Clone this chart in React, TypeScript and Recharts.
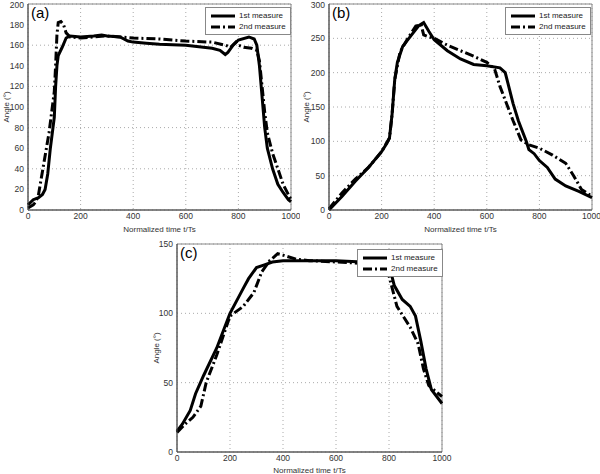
import {
  CartesianGrid,
  Label,
  Legend,
  Line,
  LineChart,
  ReferenceArea,
  XAxis,
  YAxis,
} from "recharts";

// panel (a)
const aTime1 = [0, 20, 40, 55, 65, 75, 85, 95, 100, 105, 110, 115, 130, 145, 160, 200, 250, 280, 300, 350, 380, 400, 450, 500, 600, 700, 730, 750, 760, 780, 800, 840, 860, 870, 880, 890, 900, 910, 930, 950, 970, 990, 1000];
const aFirst = [5, 10, 12, 15, 20, 35, 60, 80, 90, 120, 140, 150, 158, 167, 169, 168, 169, 170, 169, 168, 164, 163, 162, 161, 160, 157, 155, 151, 153, 160, 165, 168, 166, 160, 140, 110, 80, 60, 40, 25, 17, 10, 8];
const aTime2 = [0, 20, 30, 40, 50, 60, 70, 80, 90, 100, 105, 110, 115, 125, 135, 145, 160, 200, 300, 350, 400, 500, 600, 700, 750, 770, 790, 800, 820, 850, 870, 880, 890, 900, 910, 930, 950, 970, 990, 1000];
const aSecond = [2, 5, 8, 15, 30, 45, 60, 75, 95, 115, 140, 170, 182, 183, 180, 172, 168, 167, 169, 168, 167, 166, 164, 163, 160, 158, 163, 160, 158, 157, 155, 145, 120, 95, 75, 55, 40, 25, 15, 10];

// panel (b)
const bTime1 = [0, 50, 100, 150, 200, 220, 230, 240, 250, 260, 280, 300, 320, 340, 360, 380, 400, 450, 500, 550, 600, 650, 670, 680, 700, 720, 750, 760, 780, 800, 830, 860, 900, 950, 1000];
const bFirst = [0, 20, 42, 62, 85, 97, 105, 140, 190, 215, 238, 248, 258, 268, 273, 260, 248, 232, 220, 212, 210, 207, 200, 185, 155, 130, 100, 88, 82, 72, 62, 45, 35, 27, 18];
const bTime2 = [0, 50, 100, 150, 200, 230, 240, 250, 270, 300, 330, 350, 360, 380, 400, 450, 500, 550, 600, 630, 650, 680, 700, 730, 760, 800, 850, 900, 930, 960, 1000];
const bSecond = [2, 25, 45, 62, 85, 105, 140, 190, 230, 250, 268, 270, 255, 252, 250, 240, 232, 224, 215, 205, 180, 150, 130, 102, 95, 90, 80, 68, 50, 30, 20];

// panel (c)
const cTime1 = [0, 20, 50, 70, 100, 150, 200, 250, 270, 300, 330, 360, 400, 500, 600, 700, 780, 800, 820, 850, 880, 900, 920, 940, 960, 980, 1000];
const cFirst = [15, 20, 30, 42, 55, 75, 100, 118, 125, 133, 135, 137, 138, 138, 138, 137, 138, 135, 120, 110, 105, 98, 80, 60, 45, 40, 35];
const cTime2 = [0, 30, 60, 90, 110, 150, 200, 250, 290, 320, 350, 380, 400, 450, 500, 600, 700, 780, 800, 830, 880, 910, 930, 950, 980, 1000];
const cSecond = [14, 20, 25, 33, 50, 70, 98, 105, 115, 130, 138, 143, 142, 139, 138, 137, 136, 135, 127, 105, 90, 78, 60, 48, 43, 40];

const xTicks = [0, 200, 400, 600, 800, 1000];
const aYTicks = [0, 20, 40, 60, 80, 100, 120, 140, 160, 180, 200];
const bYTicks = [0, 50, 100, 150, 200, 250, 300];
const cYTicks = [0, 50, 100, 150];

const FONT = "'Liberation Sans', Arial, sans-serif";
const DASH_DOT = "9 3 2 3";

const toPoints = (t: number[], v: number[]) => t.map((x, i) => ({ x, y: v[i] }));

const LegendBox = () => (
  <div
    style={{
      background: "#fff",
      border: "1px solid #888",
      padding: "2px 4px",
      fontFamily: FONT,
      fontSize: 8,
      color: "#222",
      lineHeight: "11px",
    }}
  >
    {[
      { name: "1st measure", dash: undefined },
      { name: "2nd measure", dash: DASH_DOT },
    ].map((it) => (
      <div key={it.name} style={{ display: "flex", alignItems: "center" }}>
        <svg width={26} height={8} style={{ marginRight: 3 }}>
          <line x1={1} y1={4} x2={25} y2={4} stroke="#000" strokeWidth={3} strokeDasharray={it.dash} />
        </svg>
        {it.name}
      </div>
    ))}
  </div>
);

interface PanelProps {
  left: number;
  top: number;
  width: number;
  height: number;
  margin: { top: number; right: number; bottom: number; left: number };
  yWidth: number;
  xHeight: number;
  yMax: number;
  yTicks: number[];
  tag: string;
  first: { x: number; y: number }[];
  second: { x: number; y: number }[];
  legendLeft: number;
  legendTop: number;
}

const Panel = (p: PanelProps) => (
  <div style={{ position: "absolute", left: p.left, top: p.top }}>
    <LineChart width={p.width} height={p.height} margin={p.margin}>
      <CartesianGrid stroke="#aaa" strokeDasharray="1 3" />
      <XAxis
        type="number"
        dataKey="x"
        domain={[0, 1000]}
        ticks={xTicks}
        height={p.xHeight}
        tickLine={false}
        tickSize={2}
        tickMargin={1}
        axisLine={{ stroke: "#444" }}
        tick={{ fontSize: 8.5, fill: "#333", fontFamily: FONT }}
        allowDuplicatedCategory={false}
      >
        <Label
          value="Normalized time t/Ts"
          position="insideBottom"
          offset={p.xHeight > 25 ? 6 : 1}
          style={{ fontSize: 8, fill: "#333", fontFamily: FONT }}
        />
      </XAxis>
      <YAxis
        type="number"
        dataKey="y"
        domain={[0, p.yMax]}
        ticks={p.yTicks}
        width={p.yWidth}
        tickLine={false}
        tickSize={2}
        tickMargin={2}
        axisLine={{ stroke: "#444" }}
        tick={{ fontSize: 8.5, fill: "#333", fontFamily: FONT }}
      >
        <Label
          value="Angle (°)"
          angle={-90}
          position="insideLeft"
          offset={6}
          style={{ fontSize: 8, fill: "#333", fontFamily: FONT, textAnchor: "middle" }}
        />
      </YAxis>
      <ReferenceArea
        x1={0}
        x2={1000}
        y1={0}
        y2={p.yMax}
        fill="none"
        stroke="#888"
        strokeWidth={1}
        ifOverflow="extendDomain"
      >
        <Label
          value={p.tag}
          position="insideTopLeft"
          offset={3}
          style={{ fontSize: 15, fill: "#000", fontFamily: FONT }}
        />
      </ReferenceArea>
      <Line
        data={p.first}
        dataKey="y"
        name="1st measure"
        type="linear"
        stroke="#000"
        strokeWidth={3}
        dot={false}
        isAnimationActive={false}
      />
      <Line
        data={p.second}
        dataKey="y"
        name="2nd measure"
        type="linear"
        stroke="#000"
        strokeWidth={3}
        strokeDasharray={DASH_DOT}
        dot={false}
        isAnimationActive={false}
      />
      <Legend
        layout="vertical"
        align="center"
        verticalAlign="middle"
        content={() => <LegendBox />}
        wrapperStyle={{ top: p.legendTop, left: p.legendLeft, width: "auto", height: "auto" }}
      />
    </LineChart>
  </div>
);

export default function App() {
  return (
    <div
      style={{
        position: "absolute",
        left: 0,
        top: 0,
        width: 600,
        height: 474,
        background: "#fff",
        overflow: "hidden",
      }}
    >
      <Panel
        left={0}
        top={0}
        width={300}
        height={240}
        margin={{ top: 4, right: 9, bottom: 2, left: 0 }}
        yWidth={28}
        xHeight={28}
        yMax={200}
        yTicks={aYTicks}
        tag="(a)"
        first={toPoints(aTime1, aFirst)}
        second={toPoints(aTime2, aSecond)}
        legendLeft={205}
        legendTop={7}
      />
      <Panel
        left={300}
        top={0}
        width={300}
        height={240}
        margin={{ top: 4, right: 8, bottom: 2, left: 0 }}
        yWidth={29}
        xHeight={28}
        yMax={300}
        yTicks={bYTicks}
        tag="(b)"
        first={toPoints(bTime1, bFirst)}
        second={toPoints(bTime2, bSecond)}
        legendLeft={205}
        legendTop={7}
      />
      <Panel
        left={150}
        top={230}
        width={310}
        height={244}
        margin={{ top: 14, right: 18, bottom: 0, left: 0 }}
        yWidth={27}
        xHeight={22}
        yMax={150}
        yTicks={cYTicks}
        tag="(c)"
        first={toPoints(cTime1, cFirst)}
        second={toPoints(cTime2, cSecond)}
        legendLeft={207}
        legendTop={19}
      />
    </div>
  );
}
